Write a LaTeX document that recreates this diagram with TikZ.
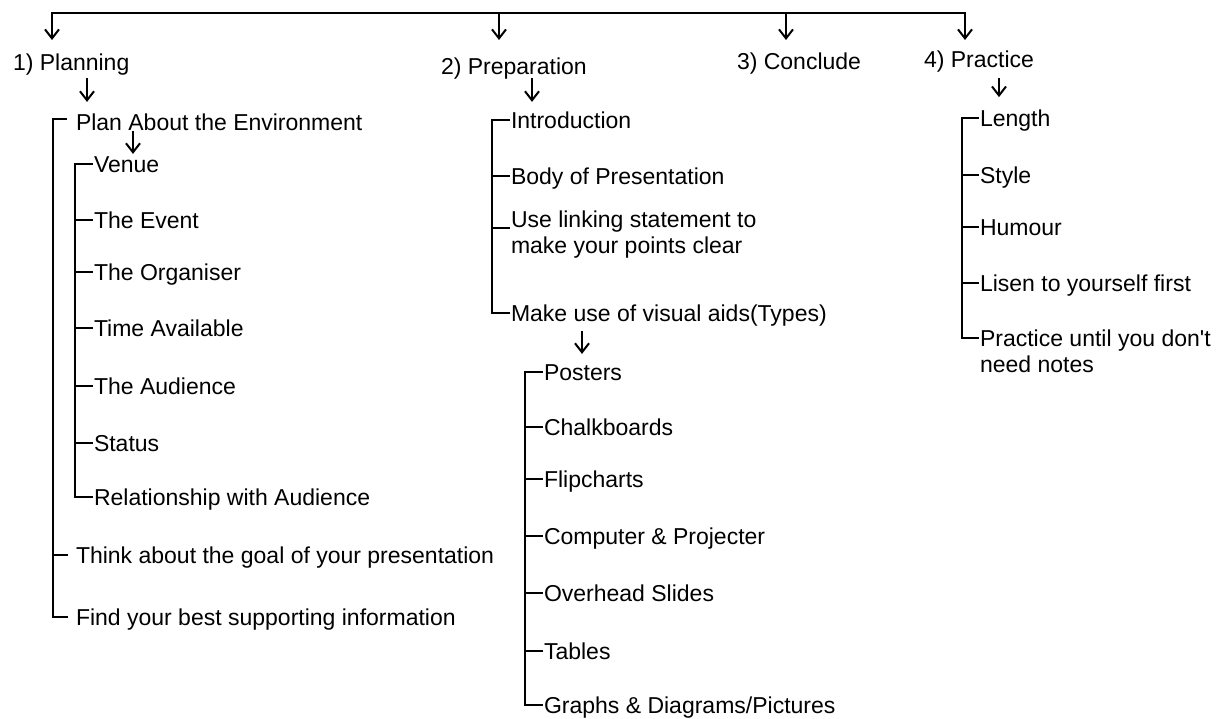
\documentclass[tikz,border=0pt]{standalone}
\usepackage{fontspec}
\setmainfont{Liberation Sans}
\usetikzlibrary{arrows.meta}

\begin{document}
\begin{tikzpicture}[x=0.5pt, y=-0.5pt, line width=1pt,
  >={Straight Barb[length=4.5pt, width=7pt]},
  item/.style={anchor=west, inner sep=0pt, text height=8.3pt, text depth=0pt,
    font=\fontsize{11.5}{13}\selectfont},
  twoline/.style={anchor=north west, inner sep=0pt, align=left,
    font=\fontsize{11.5}{13}\selectfont}]

  \useasboundingbox (0,0) rectangle (1224,718);

  %% ==================== TOP ROW ====================
  \node[item] (plan)  at (12,62)  {1) Planning};
  \node[item] (prep)  at (440,66) {2) Preparation};
  \node[item] (concl) at (736,61) {3) Conclude};
  \node[item] (prac)  at (923,59) {4) Practice};

  % bus line with the four arrows
  \coordinate (b1) at (52,13);  \coordinate (t1) at (52,40);
  \coordinate (b2) at (499,13); \coordinate (t2) at (499,40);
  \coordinate (b3) at (786,13); \coordinate (t3) at (786,40);
  \coordinate (b4) at (965,13); \coordinate (t4) at (965,40);
  \draw[<->] (t1) -- (b1) -- (b4) -- (t4);
  \draw[->] (b2) -- (t2);
  \draw[->] (b3) -- (t3);

  %% ==================== 1) PLANNING ====================
  \node[item] (env)   at (75,122) {Plan About the Environment};
  \node[item] (venue) at (93,164) {Venue};
  \node[item] (event) at (93,220) {The Event};
  \node[item] (org)   at (93,272) {The Organiser};
  \node[item] (time)  at (93,328) {Time Available};
  \node[item] (aud)   at (93,386) {The Audience};
  \node[item] (stat)  at (93,443) {Status};
  \node[item] (rel)   at (93,497) {Relationship with Audience};
  \node[item] (goal)  at (75,555) {Think about the goal of your presentation};
  \node[item] (find)  at (75,617) {Find your best supporting information};

  \coordinate (a1) at (87,0);
  \draw[->, shorten <=3.4pt, shorten >=5.4pt] (a1 |- plan.south) -- (a1 |- env.north);
  \coordinate (a2) at (133,0);
  \draw[->, shorten >=0.4pt] (a2 |- env.south) -- (a2 |- venue.north);

  % outer bracket
  \coordinate (k1) at (53,0);
  \coordinate (el) at ([xshift=-4pt, yshift=1.5pt]env.west);
  \draw (el) -- (k1 |- el) -- (k1 |- find.west)
    -- ([xshift=-3.5pt]find.west);
  \draw (k1 |- goal.west) -- ([xshift=-3.5pt]goal.west);

  % environment bracket
  \coordinate (k2) at (75,0);
  \draw (venue.west) -- (k2 |- venue.west) -- (k2 |- rel.west) -- (rel.west);
  \draw (k2 |- event.west) -- (event.west)
        (k2 |- org.west) -- (org.west)
        (k2 |- time.west) -- (time.west)
        (k2 |- aud.west) -- (aud.west)
        (k2 |- stat.west) -- (stat.west);

  %% ==================== 2) PREPARATION ====================
  \node[item]    (intro)  at (510,120) {Introduction};
  \node[item]    (body)   at (510,176) {Body of Presentation};
  \node[twoline] (link)   at (510,210) {Use linking statement to\\make your points clear};
  \node[item]    (visual) at (510,313) {Make use of visual aids(Types)};

  \node[item] (post)  at (543,372) {Posters};
  \node[item] (chalk) at (543,427) {Chalkboards};
  \node[item] (flip)  at (543,479) {Flipcharts};
  \node[item] (comp)  at (543,536) {Computer \& Projecter};
  \node[item] (over)  at (543,593) {Overhead Slides};
  \node[item] (tab)   at (543,651) {Tables};
  \node[item] (graph) at (543,705) {Graphs \& Diagrams/Pictures};

  \coordinate (a3) at (532,0);
  \draw[->, shorten <=1.4pt, shorten >=4.4pt] (a3 |- prep.south) -- (a3 |- intro.north);
  \coordinate (a4) at (582,0);
  \draw[->, shorten <=4.4pt, shorten >=4.4pt] (a4 |- visual.south) -- (a4 |- post.north);

  % preparation bracket
  \coordinate (k3) at (492,0);
  \coordinate (ll) at ([yshift=3.5pt]link.west);
  \draw (intro.west) -- (k3 |- intro.west) -- (k3 |- visual.west) -- (visual.west);
  \draw (k3 |- body.west) -- (body.west)
        (k3 |- ll) -- (ll);

  % visual aids bracket
  \coordinate (k5) at (525,0);
  \draw (post.west) -- (k5 |- post.west) -- (k5 |- graph.west) -- (graph.west);
  \draw (k5 |- chalk.west) -- (chalk.west)
        (k5 |- flip.west) -- (flip.west)
        (k5 |- comp.west) -- (comp.west)
        (k5 |- over.west) -- (over.west)
        (k5 |- tab.west) -- (tab.west);

  %% ==================== 4) PRACTICE ====================
  \node[item]    (len)   at (979,118) {Length};
  \node[item]    (style) at (979,175) {Style};
  \node[item]    (hum)   at (979,227) {Humour};
  \node[item]    (lisen) at (979,283) {Lisen to yourself first};
  \node[twoline] (notes) at (979,329) {Practice until you don\textquotesingle t\\need notes};

  \coordinate (a5) at (999,0);
  \draw[->, shorten <=4.8pt, shorten >=5.8pt] (a5 |- prac.south) -- (a5 |- len.north);

  % practice bracket
  \coordinate (k4) at (962,0);
  \coordinate (nl) at ([yshift=-4.5pt]notes.north west);
  \draw (len.west) -- (k4 |- len.west) -- (k4 |- nl) -- (nl);
  \draw (k4 |- style.west) -- (style.west)
        (k4 |- hum.west) -- (hum.west)
        (k4 |- lisen.west) -- (lisen.west);

\end{tikzpicture}
\end{document}
